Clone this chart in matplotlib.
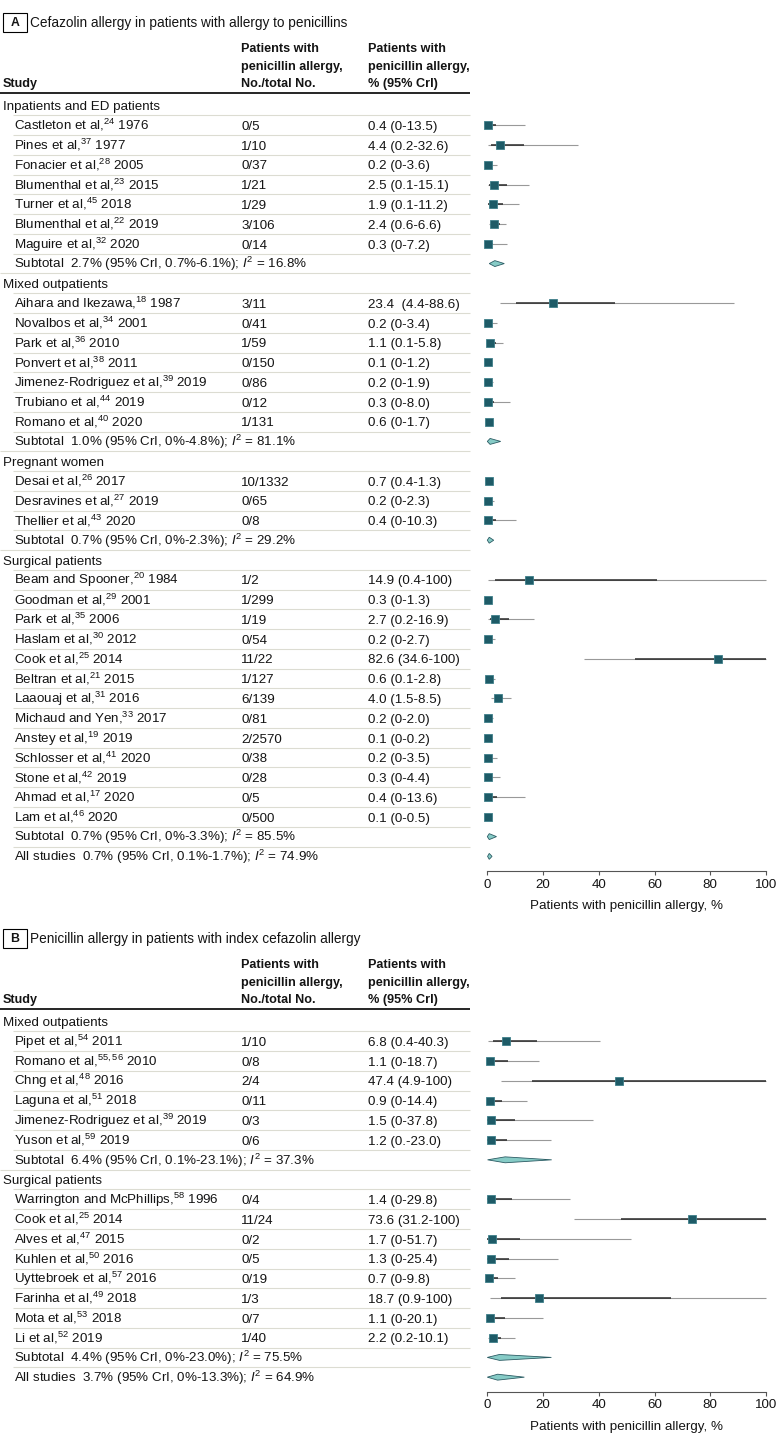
import matplotlib
matplotlib.use('Agg')
import matplotlib.pyplot as plt
from matplotlib.lines import Line2D
from matplotlib.patches import Rectangle

FONT = 'Liberation Sans'
FS = 9.6
FS_HEAD = 9.1
FS_TITLE = 9.8
plt.rcParams['font.family'] = [FONT, 'DejaVu Sans']
plt.rcParams['mathtext.fontset'] = 'custom'
plt.rcParams['mathtext.rm'] = FONT
plt.rcParams['mathtext.it'] = FONT + ':italic'
plt.rcParams['mathtext.bf'] = FONT + ':bold'
plt.rcParams['mathtext.default'] = 'regular'

# ---------------- panel A: cefazolin allergy in penicillin-allergic patients
a_groups = ['Inpatients and ED patients', 'Mixed outpatients', 'Pregnant women', 'Surgical patients']
a_group_sizes = [7, 7, 3, 13]
a_studies = [
    'Castleton et al,$^{24}$ 1976', 'Pines et al,$^{37}$ 1977', 'Fonacier et al,$^{28}$ 2005',
    'Blumenthal et al,$^{23}$ 2015', 'Turner et al,$^{45}$ 2018', 'Blumenthal et al,$^{22}$ 2019',
    'Maguire et al,$^{32}$ 2020',
    'Aihara and Ikezawa,$^{18}$ 1987', 'Novalbos et al,$^{34}$ 2001', 'Park et al,$^{36}$ 2010',
    'Ponvert et al,$^{38}$ 2011', 'Jimenez-Rodriguez et al,$^{39}$ 2019', 'Trubiano et al,$^{44}$ 2019',
    'Romano et al,$^{40}$ 2020',
    'Desai et al,$^{26}$ 2017', 'Desravines et al,$^{27}$ 2019', 'Thellier et al,$^{43}$ 2020',
    'Beam and Spooner,$^{20}$ 1984', 'Goodman et al,$^{29}$ 2001', 'Park et al,$^{35}$ 2006',
    'Haslam et al,$^{30}$ 2012', 'Cook et al,$^{25}$ 2014', 'Beltran et al,$^{21}$ 2015',
    'Laaouaj et al,$^{31}$ 2016', 'Michaud and Yen,$^{33}$ 2017', 'Anstey et al,$^{19}$ 2019',
    'Schlosser et al,$^{41}$ 2020', 'Stone et al,$^{42}$ 2019', 'Ahmad et al,$^{17}$ 2020',
    'Lam et al,$^{46}$ 2020',
]
a_counts = ['0/5', '1/10', '0/37', '1/21', '1/29', '3/106', '0/14',
            '3/11', '0/41', '1/59', '0/150', '0/86', '0/12', '1/131',
            '10/1332', '0/65', '0/8',
            '1/2', '1/299', '1/19', '0/54', '11/22', '1/127', '6/139', '0/81', '2/2570',
            '0/38', '0/28', '0/5', '0/500']
a_ci_text = ['0.4 (0-13.5)', '4.4 (0.2-32.6)', '0.2 (0-3.6)', '2.5 (0.1-15.1)', '1.9 (0.1-11.2)',
             '2.4 (0.6-6.6)', '0.3 (0-7.2)',
             '23.4  (4.4-88.6)', '0.2 (0-3.4)', '1.1 (0.1-5.8)', '0.1 (0-1.2)', '0.2 (0-1.9)',
             '0.3 (0-8.0)', '0.6 (0-1.7)',
             '0.7 (0.4-1.3)', '0.2 (0-2.3)', '0.4 (0-10.3)',
             '14.9 (0.4-100)', '0.3 (0-1.3)', '2.7 (0.2-16.9)', '0.2 (0-2.7)', '82.6 (34.6-100)',
             '0.6 (0.1-2.8)', '4.0 (1.5-8.5)', '0.2 (0-2.0)', '0.1 (0-0.2)', '0.2 (0-3.5)',
             '0.3 (0-4.4)', '0.4 (0-13.6)', '0.1 (0-0.5)']
a_est = [0.4, 4.4, 0.2, 2.5, 1.9, 2.4, 0.3,
         23.4, 0.2, 1.1, 0.1, 0.2, 0.3, 0.6,
         0.7, 0.2, 0.4,
         14.9, 0.3, 2.7, 0.2, 82.6, 0.6, 4.0, 0.2, 0.1, 0.2, 0.3, 0.4, 0.1]
a_lo = [0, 0.2, 0, 0.1, 0.1, 0.6, 0,
        4.4, 0, 0.1, 0, 0, 0, 0,
        0.4, 0, 0,
        0.4, 0, 0.2, 0, 34.6, 0.1, 1.5, 0, 0, 0, 0, 0, 0]
a_hi = [13.5, 32.6, 3.6, 15.1, 11.2, 6.6, 7.2,
        88.6, 3.4, 5.8, 1.2, 1.9, 8.0, 1.7,
        1.3, 2.3, 10.3,
        100, 1.3, 16.9, 2.7, 100, 2.8, 8.5, 2.0, 0.2, 3.5, 4.4, 13.6, 0.5]
# inner (darker) interval
a_mid_lo = [0, 1.5, 0, 0.5, 0.4, 1.3, 0,
            10.3, 0, 0.3, 0, 0, 0, 0.2,
            0.6, 0, 0,
            2.7, 0.1, 1.0, 0, 53, 0.3, 2.8, 0, 0.05, 0, 0, 0, 0]
a_mid_hi = [3.0, 13.3, 1.0, 6.9, 5.5, 4.5, 2.2,
            45.8, 1.0, 3.1, 0.4, 0.6, 2.5, 1.0,
            0.9, 0.7, 3.0,
            61, 0.5, 7.9, 0.8, 100, 1.2, 5.5, 0.6, 0.12, 1.0, 1.3, 3.5, 0.15]
a_sub_est = [2.7, 1.0, 0.7, 0.7]
a_sub_lo = [0.7, 0, 0, 0]
a_sub_hi = [6.1, 4.8, 2.3, 3.3]
a_sub_i2 = [16.8, 81.1, 29.2, 85.5]
a_all = (0.7, 0.1, 1.7, 74.9)

# ---------------- panel B: penicillin allergy in cefazolin-allergic patients
b_groups = ['Mixed outpatients', 'Surgical patients']
b_group_sizes = [6, 8]
b_studies = [
    'Pipet et al,$^{54}$ 2011', 'Romano et al,$^{55,56}$ 2010', 'Chng et al,$^{48}$ 2016',
    'Laguna et al,$^{51}$ 2018', 'Jimenez-Rodriguez et al,$^{39}$ 2019', 'Yuson et al,$^{59}$ 2019',
    'Warrington and McPhillips,$^{58}$ 1996', 'Cook et al,$^{25}$ 2014', 'Alves et al,$^{47}$ 2015',
    'Kuhlen et al,$^{50}$ 2016', 'Uyttebroek et al,$^{57}$ 2016', 'Farinha et al,$^{49}$ 2018',
    'Mota et al,$^{53}$ 2018', 'Li et al,$^{52}$ 2019',
]
b_counts = ['1/10', '0/8', '2/4', '0/11', '0/3', '0/6',
            '0/4', '11/24', '0/2', '0/5', '0/19', '1/3', '0/7', '1/40']
b_ci_text = ['6.8 (0.4-40.3)', '1.1 (0-18.7)', '47.4 (4.9-100)', '0.9 (0-14.4)', '1.5 (0-37.8)',
             '1.2 (0.-23.0)',
             '1.4 (0-29.8)', '73.6 (31.2-100)', '1.7 (0-51.7)', '1.3 (0-25.4)', '0.7 (0-9.8)',
             '18.7 (0.9-100)', '1.1 (0-20.1)', '2.2 (0.2-10.1)']
b_est = [6.8, 1.1, 47.4, 0.9, 1.5, 1.2, 1.4, 73.6, 1.7, 1.3, 0.7, 18.7, 1.1, 2.2]
b_lo = [0.4, 0, 4.9, 0, 0, 0, 0, 31.2, 0, 0, 0, 0.9, 0, 0.2]
b_hi = [40.3, 18.7, 100, 14.4, 37.8, 23.0, 29.8, 100, 51.7, 25.4, 9.8, 100, 20.1, 10.1]
b_mid_lo = [2.2, 0, 16, 0, 0, 0, 0, 47.8, 0, 0, 0, 4.8, 0, 0.8]
b_mid_hi = [18, 7.3, 100, 5.1, 9.9, 6.9, 8.7, 100, 11.7, 7.7, 3.8, 65.8, 6.5, 5.0]
b_sub_est = [6.4, 4.4]
b_sub_lo = [0.1, 0]
b_sub_hi = [23.1, 23.0]
b_sub_i2 = [37.3, 75.5]
b_all = (3.7, 0, 13.3, 64.9)

W, H = 780, 1443
ROW = 19.76
X_GROUP, X_STUDY, X_COUNT, X_CI = 3, 14.5, 241, 368
X_TABLE_END = 470
AX_LEFT, AX_RIGHT = 487.3, 766
TEAL = '#1e5b67'
SEP = '#dcdcd2'
INK = '#141414'

fig = plt.figure(figsize=(W / 100, H / 100), dpi=100)
fig.patch.set_facecolor('white')


def fx(x):
    return x / W


def fy(y):
    return 1 - y / H


def pct(v):
    return '0' if v == 0 else f'{v:.1f}'


def summary_text(head, e, l, h, i2):
    return (f'{head}  {pct(e)}% (95% CrI, {pct(l)}%-{pct(h)}%); '
            f'$\\mathit{{I}}^{{2}}$ = {i2:.1f}%')


def hline(y, x0, x1, color, lw):
    fig.add_artist(Line2D([fx(x0), fx(x1)], [fy(y), fy(y)], transform=fig.transFigure,
                          color=color, lw=lw, solid_capstyle='butt'))


def label(x, y, s, size=FS, **kw):
    # y is the visual centre of the row, text sits on a baseline below it
    fig.text(fx(x), fy(y + 4.7), s, fontsize=size, va='baseline', ha='left', color=INK, **kw)


def draw_panel(letter, title, row1, groups, sizes, studies, counts, ci_text,
               est, lo, hi, mid_lo, mid_hi, sub_est, sub_lo, sub_hi, sub_i2, all_vals):
    rows = []
    k = 0
    for g, name in enumerate(groups):
        rows.append(('group', g))
        for _ in range(sizes[g]):
            rows.append(('study', k))
            k += 1
        rows.append(('sub', g))
    rows.append(('all', 0))
    n = len(rows)

    # title box + title
    box_top = row1 - 92.5
    fig.patches.append(Rectangle((fx(2.7), fy(box_top + 19)), fx(24), 19 / H,
                                 transform=fig.transFigure, fill=False, ec='black', lw=0.8))
    fig.text(fx(14.7), fy(box_top + 9.5), letter, fontsize=FS - 0.8, fontweight='bold',
             ha='center', va='center', color=INK)
    label(30, box_top + 9.5, title, size=FS_TITLE)

    # column headers
    thick = row1 - 13
    hdr = [thick - 45, thick - 27.5, thick - 10]
    label(X_GROUP, hdr[2], 'Study', size=FS_HEAD, fontweight='bold')
    for t, yy in zip(['Patients with', 'penicillin allergy,', 'No./total No.'], hdr):
        label(X_COUNT, yy, t, size=FS_HEAD, fontweight='bold')
    for t, yy in zip(['Patients with', 'penicillin allergy,', '% (95% CrI)'], hdr):
        label(X_CI, yy, t, size=FS_HEAD, fontweight='bold')
    hline(thick, 0, X_TABLE_END, 'black', 1.2)

    # forest axes, rows are 1..n
    top_px = row1 - ROW
    bot_px = row1 + (n - 1) * ROW + 14.5
    ax = fig.add_axes([fx(AX_LEFT), fy(bot_px), (AX_RIGHT - AX_LEFT) / W, (bot_px - top_px) / H])
    ax.set_xlim(0, 100)
    ax.set_ylim(n + 14.5 / ROW, 0)
    ax.set_yticks([])
    for s in ['left', 'right', 'top']:
        ax.spines[s].set_visible(False)
    ax.spines['bottom'].set_color('#555555')
    ax.spines['bottom'].set_linewidth(0.8)
    ax.set_xticks([0, 20, 40, 60, 80, 100])
    ax.tick_params(axis='x', length=3, width=0.8, color='#555555', pad=2.5,
                   labelsize=FS, labelcolor=INK)
    ax.set_xlabel('Patients with penicillin allergy, %', fontsize=FS, labelpad=7, color=INK)
    ax.patch.set_alpha(0)

    for i, (kind, idx) in enumerate(rows):
        y_row = i + 1
        y_px = row1 + i * ROW
        if kind == 'group':
            label(X_GROUP, y_px, groups[idx])
        elif kind == 'study':
            label(X_STUDY, y_px, studies[idx])
            label(X_COUNT, y_px, counts[idx])
            label(X_CI, y_px, ci_text[idx])
            ax.hlines(y_row, lo[idx], hi[idx], color='#999999', lw=0.8, zorder=2, clip_on=False)
            ax.hlines(y_row, mid_lo[idx], mid_hi[idx], color='#2a2a2a', lw=1.1, zorder=3,
                      clip_on=False)
            ax.plot(est[idx], y_row, marker='s', ms=6.3, mfc=TEAL, mec='#3f7f8a', mew=0.6,
                    ls='none', zorder=4, clip_on=False)
        else:
            if kind == 'sub':
                e, l, h, i2 = sub_est[idx], sub_lo[idx], sub_hi[idx], sub_i2[idx]
                head = 'Subtotal'
            else:
                e, l, h, i2 = all_vals
                head = 'All studies'
            label(X_STUDY, y_px, summary_text(head, e, l, h, i2))
            d = 0.15
            ax.fill([l, e, h, e], [y_row, y_row - d, y_row, y_row + d], fc='#86cbc6',
                    ec='#2c5c64', lw=0.6, zorder=4, clip_on=False)

        # separator below this row
        if i < n - 1:
            x0 = 0 if rows[i + 1][0] == 'group' else 13
            hline(y_px + ROW / 2, x0, X_TABLE_END, SEP, 0.8)
    return ax


def plot_graph():
    draw_panel('A', 'Cefazolin allergy in patients with allergy to penicillins', 105.5,
               a_groups, a_group_sizes, a_studies, a_counts, a_ci_text,
               a_est, a_lo, a_hi, a_mid_lo, a_mid_hi,
               a_sub_est, a_sub_lo, a_sub_hi, a_sub_i2, a_all)
    draw_panel('B', 'Penicillin allergy in patients with index cefazolin allergy', 1021.5,
               b_groups, b_group_sizes, b_studies, b_counts, b_ci_text,
               b_est, b_lo, b_hi, b_mid_lo, b_mid_hi,
               b_sub_est, b_sub_lo, b_sub_hi, b_sub_i2, b_all)
    fig.savefig('out.png', dpi=100)
    plt.close(fig)


if __name__ == '__main__':
    plot_graph()
